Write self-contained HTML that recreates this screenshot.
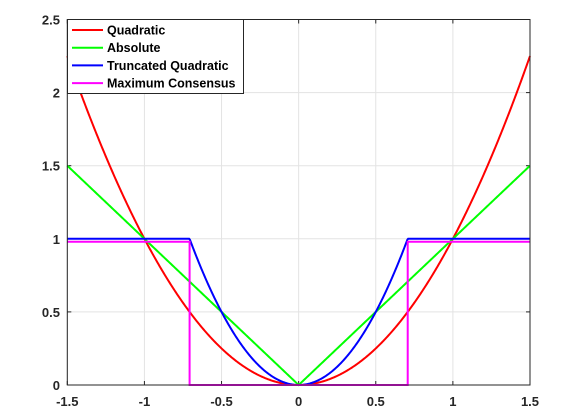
<!DOCTYPE html>
<html><head><meta charset="utf-8"><style>
html,body{margin:0;padding:0;background:#fff}
svg{display:block;font-family:"Liberation Sans",sans-serif}
</style></head><body>
<svg id="chart" width="567" height="419"></svg>
<script>
const xTicks=[-1.5,-1,-0.5,0,0.5,1,1.5];
const xTickLabels=["-1.5","-1","-0.5","0","0.5","1","1.5"];
const yTicks=[0,0.5,1,1.5,2,2.5];
const yTickLabels=["0","0.5","1","1.5","2","2.5"];
const seriesNames=["Quadratic","Absolute","Truncated Quadratic","Maximum Consensus"];
const seriesColors=["#ff0000","#00ff00","#0000ff","#ff00ff"];
const truncThreshold=[0.7071];
const truncLevel=[1];
const consensusLevel=[0.98];
const xs=[];for(let i=0;i<=600;i++)xs.push(-1.5+3*i/600);
const quadratic=xs.map(x=>x*x);
const absolute=xs.map(x=>Math.abs(x));
const truncated=xs.map(x=>Math.min(2*x*x,truncLevel[0]));
const consensus=[];
const NS="http://www.w3.org/2000/svg";
const svg=document.getElementById('chart');
const L=67.3,R=530,T=19.5,B=385;
const sx=v=>L+(v+1.5)/3*(R-L);
const sy=v=>B-v/2.5*(B-T);
function mk(tag,at,parent){const e=document.createElementNS(NS,tag);for(const k in at)e.setAttribute(k,at[k]);(parent||svg).appendChild(e);return e;}
// grid
xTicks.forEach((t,i)=>{
 const g=mk('line',{x1:sx(t),x2:sx(t),y1:T,y2:B,stroke:'#e3e3e3','stroke-width':1});
 
 
 const tx=mk('text',{x:sx(t),y:406,'text-anchor':'middle','font-size':13,'font-weight':'bold',fill:'#262626'});
 tx.textContent=xTickLabels[i];
 
 
 mk('line',{x1:sx(t),x2:sx(t),y1:B,y2:B-4,stroke:'#262626'});
 mk('line',{x1:sx(t),x2:sx(t),y1:T,y2:T+4,stroke:'#262626'});
});
yTicks.forEach((t,i)=>{
 const g=mk('line',{x1:L,x2:R,y1:sy(t),y2:sy(t),stroke:'#e3e3e3','stroke-width':1});
 
 
 const tx=mk('text',{x:60,y:sy(t)+5,'text-anchor':'end','font-size':13,'font-weight':'bold',fill:'#262626'});
 tx.textContent=yTickLabels[i];
 
 
 mk('line',{x1:L,x2:L+4,y1:sy(t),y2:sy(t),stroke:'#262626'});
 mk('line',{x1:R,x2:R-4,y1:sy(t),y2:sy(t),stroke:'#262626'});
});
function poly(ys,color,name){
 const d=xs.map((x,i)=>(i?'L':'M')+sx(x).toFixed(2)+' '+sy(ys[i]).toFixed(2)).join(' ');
 const p=mk('path',{d:d,fill:'none',stroke:color,'stroke-width':2});
 
 
}
poly(quadratic,seriesColors[0],'quadratic-line');
poly(absolute,seriesColors[1],'absolute-line');
poly(truncated,seriesColors[2],'truncated-quadratic-line');
const th=truncThreshold[0],cl=consensusLevel[0];
const cd=`M${sx(-1.5)} ${sy(cl)} L${sx(-th)} ${sy(cl)} L${sx(-th)} ${sy(0)} L${sx(th)} ${sy(0)} L${sx(th)} ${sy(cl)} L${sx(1.5)} ${sy(cl)}`;
const cp=mk('path',{d:cd,fill:'none',stroke:seriesColors[3],'stroke-width':2});


// axes box
const box=mk('rect',{x:L,y:T,width:R-L,height:B-T,fill:'none',stroke:'#262626','stroke-width':1});


// legend
const lg=mk('g',{});


mk('rect',{x:67.5,y:19.5,width:176,height:74,fill:'#fff',stroke:'#262626','stroke-width':1},lg);
seriesNames.forEach((n,i)=>{
 const y=30+i*17.7;
 const e=mk('g',{},lg);
 
 
 mk('line',{x1:72,x2:103,y1:y,y2:y,stroke:seriesColors[i],'stroke-width':2},e);
 const t=mk('text',{x:107,y:y+4.5,'font-size':12.5,'font-weight':'bold',fill:'#000'},e);
 t.textContent=n;
});
</script>
</body></html>
